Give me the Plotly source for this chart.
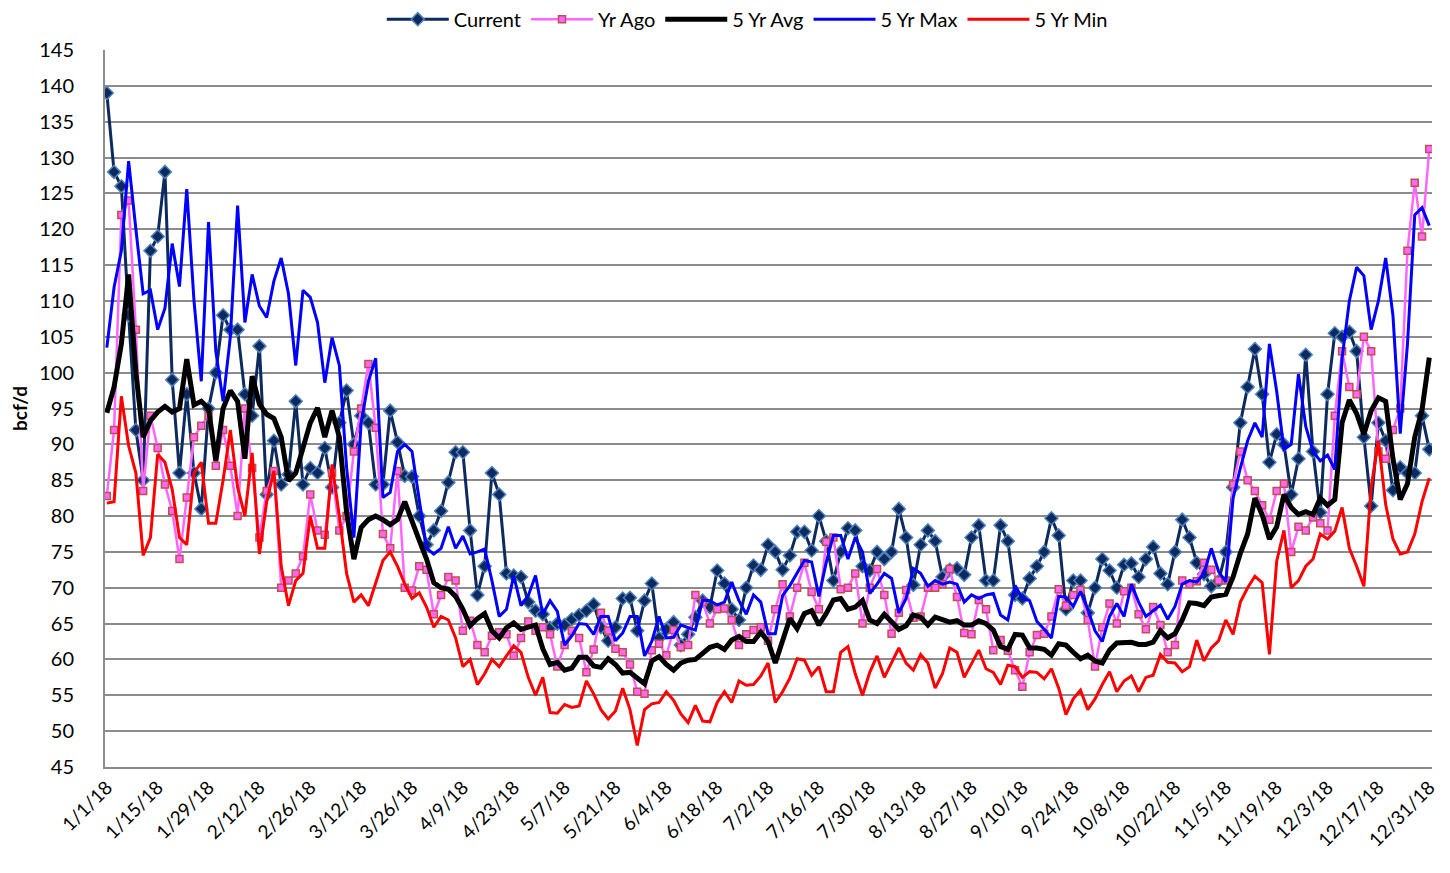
import pandas as pd
import plotly.graph_objects as go

# every other day, 1/1/18 .. 12/31/18
dates = pd.date_range("2018-01-01", "2018-12-31", freq="2D")

current = [
    139, 128, 126, 108, 92, 85, 117, 119, 128, 99,
    86, 97, 86, 81, 95, 100, 108, 106, 106, 97,
    94, 103.7, 83, 90.5, 84.4, 85.8, 96, 84.4, 86.7, 86,
    89.5, 84, 93, 97.5, 90, 94, 93, 84.4, 84.4, 94.7,
    90.3, 85.6, 85.5, 80, 76, 78, 80.7, 84.7, 88.9, 88.9,
    78, 69, 73, 86, 83, 72, 71.7, 71.5, 68, 66.8,
    66.3, 64.4, 65, 64.8, 65.6, 66.2, 66.8, 67.7, 64.5, 62.6,
    64.5, 68.5, 68.6, 64, 68.2, 70.6, 63, 64.2, 65.2, 62,
    63.5, 65.9, 68.2, 67.3, 72.4, 70.6, 67, 65.5, 70, 73.1,
    72.5, 76, 75, 72.5, 74.5, 77.8, 77.8, 75.2, 80, 76.5,
    71, 75, 78.3, 78, 73, 72.4, 75, 74, 75, 81,
    77, 70.4, 76, 78, 76.5, 71.5, 72.5, 72.7, 71.8, 77,
    78.7, 71, 71, 78.7, 76.5, 69, 68.5, 71.3, 73, 75,
    79.7, 77.3, 67, 71, 71, 66.5, 70, 74, 72.4, 70,
    73.2, 73.4, 71.5, 74, 75.7, 72, 70.5, 75, 79.5, 77,
    73.5, 71.9, 70.2, 70.9, 75, 84, 93, 98, 103.3, 97,
    87.5, 91.4, 90, 83, 88, 102.5, 89, 80.5, 97, 105.5,
    105, 105.7, 103, 91, 81.4, 93, 90.5, 83.6, 86.8, 86,
    86, 94, 89.3,
]

yr_ago = [
    82.8, 92, 122, 124, 106, 83.5, 94, 89.5, 84.4, 80.7,
    74, 82.6, 91, 92.6, 94, 87, 92, 87, 80, 95,
    86.7, 77, 83.5, 86.3, 70, 71, 72, 74.4, 83, 78,
    77.4, 86, 78, 80, 89, 95, 101.2, 92.3, 77.5, 75.5,
    86.3, 70, 69.6, 73, 72.5, 66.3, 69, 71.5, 71, 64,
    65.4, 62, 61, 63.3, 63.8, 63.5, 60.5, 63, 65.3, 64,
    64.5, 63.5, 59, 62, 64, 63, 58.2, 61.4, 66.5, 64,
    61.5, 61, 59.3, 55.5, 55.2, 61.3, 62.2, 60.6, 64.1, 61.7,
    62, 69, 68, 65, 67, 67.1, 65.5, 62, 63.5, 64.1,
    64.5, 62.6, 67, 70.5, 66, 70, 73.5, 69.4, 67, 76.4,
    77, 69.8, 70, 72, 65, 70, 72.6, 69, 63.6, 66.5,
    69.7, 65.8, 66, 70, 70, 70.5, 72.6, 68.7, 63.7, 63.5,
    68.3, 67, 61.3, 62.7, 61.2, 58.5, 56.2, 61, 63.4, 63.6,
    66, 69.8, 67.5, 69, 69.7, 65.5, 59, 64.5, 67.8, 65,
    69.5, 70, 66.3, 64.2, 67.3, 64.8, 61, 62, 71, 70.5,
    70.9, 73.5, 72.5, 71, 71, 84.4, 89, 85, 83.5, 81.5,
    79.5, 83.5, 84.5, 75, 78.5, 78, 79.8, 79, 78, 94,
    103, 98, 97, 105, 103, 89, 88, 92, 95, 117,
    126.5, 119, 131.2,
]

avg_5yr = [
    94.4, 98, 104, 113.7, 100, 91, 93.3, 94.5, 95.3, 94.5,
    95, 101.9, 95.5, 96, 95, 87.7, 95, 97.5, 96, 88,
    99.5, 95.6, 94.2, 93.6, 91, 84.9, 86, 89.5, 93, 95.1,
    91, 94.7, 91, 80.5, 74, 78.4, 79.5, 80, 79.5, 78.8,
    79.5, 82, 79.5, 76.6, 74, 70.7, 70, 69.8, 68.8, 67,
    64.7, 65.7, 66.4, 64, 63, 64.4, 65.1, 64.2, 64.5, 64.8,
    61.5, 59.3, 59.6, 58.5, 58.8, 60.3, 60.3, 59.1, 58.9, 60.1,
    59.3, 58.1, 58.2, 57.5, 56.6, 59.8, 60.4, 59.3, 58.5, 59.5,
    59.9, 60, 60.8, 61.7, 62, 61.4, 62.7, 63.2, 62.5, 62.5,
    63.8, 62.5, 59.5, 62.5, 65.7, 64.3, 66.4, 66.8, 64.8, 66.4,
    68.3, 68.5, 67, 67.3, 68.2, 65.5, 65, 66.3, 65.2, 64.2,
    64.7, 66.2, 65.9, 64.8, 65.9, 65.5, 65.2, 65.4, 64.8, 64.8,
    65.4, 65, 64.1, 61.8, 61.4, 63.5, 63.4, 61.6, 61.6, 61.4,
    60.6, 62.2, 62, 61, 60.1, 60.6, 59.8, 59.5, 61.3, 62.3,
    62.4, 62.4, 62.1, 62.1, 62.4, 64, 63, 63.6, 65.5, 67.9,
    67.8, 67.5, 68.7, 68.9, 69.1, 71.5, 74.8, 77.5, 82.5, 80.2,
    76.8, 78.5, 83, 81.2, 80.2, 80.6, 80.2, 82.5, 81.5, 82.3,
    93, 96.2, 94.3, 91.4, 94.7, 96.5, 96, 88, 82.3, 84.5,
    91, 94.8, 102.1,
]

max_5yr = [
    103.5, 111.9, 117, 129.5, 120, 111, 111.5, 106, 109, 118,
    112, 125.6, 110, 98.8, 121, 103, 96, 105, 123.3, 107,
    113.7, 109.3, 107.7, 112.8, 116, 111, 101, 111.5, 110.5, 107,
    98.6, 104.9, 101, 86.8, 77, 93, 98.8, 102, 82.6, 83.3,
    89, 90, 89, 82, 75.5, 74.7, 75.5, 78.5, 75.5, 77.2,
    74.7, 75, 75.4, 71, 66, 67, 71.7, 67.5, 68.9, 71.7,
    66.3, 68.2, 66.7, 62, 63.3, 65, 64.9, 63.5, 66, 66,
    62.6, 63.7, 66, 66, 60.5, 62.5, 66, 63, 63.1, 64.8,
    64.5, 64.1, 68.3, 68.2, 67.6, 68, 70.8, 68.2, 66.3, 69,
    68, 63.6, 63.6, 68.9, 70.3, 72.1, 73.8, 73.6, 68.8, 73.5,
    77.3, 77.3, 74, 77, 75, 69.2, 70.5, 72, 71.3, 66.5,
    68.5, 72.7, 72, 70.2, 71, 70.5, 70.8, 70.5, 68, 69,
    68.5, 69, 69.2, 66.2, 65.5, 70.3, 68.5, 68.2, 65.3, 64.2,
    63, 68.8, 68.7, 67.4, 69.5, 67, 64, 62.5, 66, 67.8,
    66, 70.5, 68, 66, 66.8, 67.6, 65.6, 67.4, 70.5, 71,
    70.8, 72, 75.5, 72.3, 70.8, 82.5, 86.7, 90.5, 93, 91,
    104, 97.4, 89.3, 90, 99.8, 92.5, 89, 87.7, 88.5, 86.5,
    102, 110, 114.7, 113.5, 106, 110, 116, 108, 91.5, 104,
    122, 123, 120.5,
]

min_5yr = [
    81.8, 82, 96.7, 89.8, 86, 74.5, 77, 88.6, 87.5, 83.7,
    77, 76, 86, 87.5, 79, 79, 85, 92, 84, 80,
    88.8, 74.7, 82, 86.3, 73, 67.5, 71, 72, 80, 75.5,
    75.5, 87.2, 80, 72, 68, 69, 67.5, 70.7, 73.8, 75,
    73, 70.5, 68.5, 69.3, 67.3, 64.5, 66, 65.5, 63, 59,
    60, 56.5, 58, 60, 59, 60.5, 61.9, 61, 57.5, 55,
    57.5, 52.6, 52.5, 53.7, 53.3, 53.5, 57, 55.2, 53, 51.7,
    52.8, 56, 53, 48, 53, 53.8, 54, 55.5, 54.3, 52.4,
    51.2, 53.6, 51.4, 51.3, 54, 55.5, 54, 57, 56.4, 56.5,
    57.7, 59.5, 54, 55.5, 57.4, 60.1, 59.9, 57.8, 59, 55.5,
    55.5, 61, 61.8, 58, 55, 58.2, 60.5, 57.5, 59.5, 61.6,
    59.5, 58.5, 60.7, 59.5, 56, 58, 61.6, 61, 57.5, 59.5,
    61.3, 58.7, 58.2, 56.5, 59.2, 59, 57.5, 58.3, 58.2, 57.3,
    58.7, 56, 52.3, 54.5, 55.7, 53, 54.5, 56.5, 58.3, 55.5,
    57, 57.7, 55.5, 57.5, 57.8, 60.7, 59.6, 59.5, 58.3, 59,
    62.7, 59.8, 61.6, 62.6, 65.5, 63.5, 68, 70, 71.6, 70.7,
    60.7, 73.7, 78, 70, 71, 73, 74, 77.5, 76.8, 77.9,
    81.2, 75.5, 73, 70.2, 84, 90.5, 81.6, 76.8, 74.7, 75,
    77.5, 82, 85.3,
]

tick_dates = pd.date_range("2018-01-01", "2018-12-31", freq="14D")
tick_text = [f"{d.month}/{d.day}/18" for d in tick_dates]

font = "Lato, 'Open Sans', sans-serif"

fig = go.Figure()
fig.add_trace(go.Scatter(x=dates, y=current, name="Current", mode="lines+markers",
                         line=dict(color="#0d2a5e", width=3),
                         marker=dict(symbol="diamond", size=10, color="#0d2a5e",
                                     line=dict(color="#4f81bd", width=1.5))))
fig.add_trace(go.Scatter(x=dates, y=yr_ago, name="Yr Ago", mode="lines+markers",
                         line=dict(color="#ff66ff", width=2.5),
                         marker=dict(symbol="square", size=7, color="#ff66ff",
                                     line=dict(color="#c0504d", width=1.5))))
fig.add_trace(go.Scatter(x=dates, y=avg_5yr, name="5 Yr Avg", mode="lines",
                         line=dict(color="black", width=5)))
fig.add_trace(go.Scatter(x=dates, y=max_5yr, name="5 Yr Max", mode="lines",
                         line=dict(color="#0000ff", width=3)))
fig.add_trace(go.Scatter(x=dates, y=min_5yr, name="5 Yr Min", mode="lines",
                         line=dict(color="#ff0000", width=3)))

fig.update_layout(
    width=1450, height=873,
    margin=dict(l=97, r=26, t=42, b=114, autoexpand=False),
    plot_bgcolor="white", paper_bgcolor="white",
    font=dict(family=font, color="black"),
    legend=dict(orientation="h", x=0.484, xanchor="center", y=1.043, yanchor="middle",
                font=dict(size=20), itemwidth=62, tracegroupgap=0,
                bgcolor="rgba(0,0,0,0)"),
    showlegend=True,
)
fig.update_xaxes(
    range=["2017-12-31 12:00", "2018-12-31 18:00"],
    tickvals=tick_dates, ticktext=tick_text, tickangle=-45,
    tickfont=dict(size=19), showgrid=False,
    showline=True, linecolor="#8c8c8c", linewidth=2, ticks="",
)
fig.update_yaxes(
    range=[45, 145], dtick=5, tickfont=dict(size=20),
    title=dict(text="<b>bcf/d</b>", font=dict(size=19), standoff=12),
    showgrid=True, gridcolor="#8c8c8c", gridwidth=2,
    showline=True, linecolor="#8c8c8c", linewidth=2,
    ticklabelstandoff=25, zeroline=False,
)

fig.write_html("out.html")
